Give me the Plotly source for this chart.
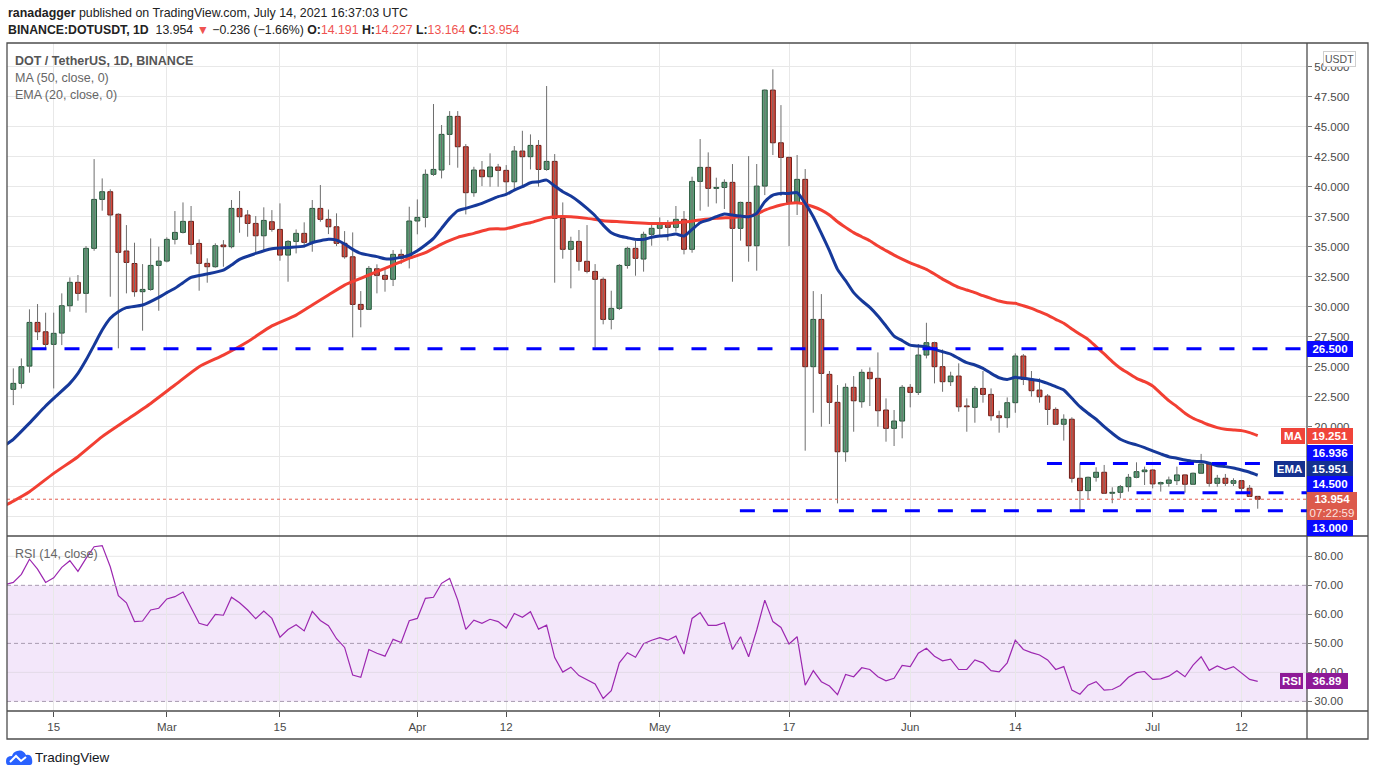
import plotly.graph_objects as go
import pandas as pd

W, H = 1376, 776


def px(x):
    return x / W


def py(y):
    return 1 - y / H


# ---------------- DATA ----------------
start_date = "2021-02-10"

opens = [
    23.11, 23.61, 25.05, 28.69, 27.91, 26.86, 27.80, 30.08, 32.03, 31.11, 34.86, 38.94, 39.58, 37.70, 34.64, 33.60, 31.25, 31.44, 33.44,
    33.80, 35.61, 36.19, 37.11, 35.27, 33.61, 33.33, 35.14, 35.00, 38.19, 37.64, 36.94, 35.91, 37.08, 36.44, 34.30, 35.44, 36.11, 35.36, 38.19, 37.28, 36.66, 35.28, 34.16, 30.19, 29.78, 33.16, 32.61, 32.28, 34.36, 34.03,
    37.14, 37.44, 41.03, 41.39, 44.36, 45.86, 43.33, 39.50, 41.39, 40.83, 41.64, 41.36, 40.41, 42.97, 42.50, 43.44, 41.44, 42.11, 37.36, 34.78, 35.44, 33.78, 32.94, 32.28, 28.94, 29.86, 33.44, 34.86, 33.97, 36.03,
    36.53, 36.94, 36.61, 37.28, 34.78, 40.44, 41.61, 39.86, 39.94, 40.36, 36.53, 38.69, 35.08, 40.05, 48.05, 43.66, 42.44, 38.66, 40.61, 25.00, 28.94, 24.36, 22.03, 17.91, 23.28, 22.08, 24.53, 24.03, 21.39, 19.86, 20.47,
    23.28, 22.86, 25.97, 27.00, 25.00, 23.75, 24.22, 21.72, 21.61, 23.19, 22.69, 20.91, 20.75, 22.00, 25.89, 23.94, 23.05, 22.55, 21.44, 20.20, 20.62, 15.70, 14.67, 15.78, 16.20, 14.45, 14.53, 15.00, 15.78, 16.25,
    16.39, 15.23, 15.28, 15.50, 15.98, 15.20, 16.12, 16.89, 15.28, 15.70, 15.28, 15.50, 14.87, 14.191,
]
highs = [
    24.86, 25.69, 29.78, 30.22, 29.50, 29.50, 31.11, 32.44, 32.64, 35.05, 42.30, 40.69, 39.78, 37.78, 36.80, 35.33, 33.55, 35.69, 35.00,
    35.78, 37.97, 38.69, 38.39, 35.61, 34.03, 35.28, 35.55, 38.89, 39.64, 38.05, 37.55, 38.28, 38.05, 38.61, 35.55, 36.44, 37.03, 38.89, 40.14, 38.10, 37.78, 36.30, 36.19, 31.30, 33.39, 33.53, 33.25, 34.72, 34.78, 38.33,
    38.94, 41.44, 46.89, 45.14, 46.30, 46.30, 43.55, 41.66, 42.14, 42.78, 41.90, 41.80, 43.39, 44.66, 44.36, 43.89, 48.39, 42.72, 38.69, 35.83, 36.39, 36.80, 33.55, 32.44, 31.33, 33.55, 35.00, 35.50, 36.25, 36.94,
    37.44, 37.22, 38.39, 37.97, 40.83, 43.97, 42.86, 40.75, 40.61, 41.89, 38.75, 42.55, 41.89, 48.10, 49.78, 46.80, 42.50, 42.64, 41.47, 31.30, 31.05, 24.64, 23.47, 23.61, 24.22, 24.78, 24.94, 26.19, 22.36, 21.39, 23.47,
    23.55, 26.89, 28.66, 27.08, 26.44, 24.58, 25.28, 22.36, 23.39, 24.64, 23.19, 21.33, 22.44, 26.11, 26.05, 24.64, 24.03, 22.72, 21.61, 21.03, 20.78, 16.95, 15.84, 16.62, 16.81, 14.95, 15.14, 16.06, 17.03, 16.67,
    16.45, 15.42, 15.84, 16.67, 16.00, 16.17, 17.73, 17.00, 15.98, 16.06, 15.70, 15.56, 15.14, 14.227,
]
lows = [
    21.80, 23.19, 24.50, 27.22, 26.44, 23.19, 26.80, 29.58, 30.50, 29.50, 34.66, 38.00, 30.83, 26.53, 31.11, 30.83, 28.00, 31.33, 29.66,
    33.69, 35.19, 36.10, 34.36, 31.33, 32.00, 33.25, 33.33, 34.86, 36.16, 35.83, 34.44, 34.72, 36.25, 33.83, 32.08, 34.44, 34.94, 34.58, 37.08, 36.05, 35.05, 34.00, 27.44, 28.28, 29.72, 31.11, 31.25, 31.72, 33.55, 33.19,
    36.03, 36.61, 40.90, 40.69, 41.80, 41.58, 37.69, 39.16, 40.05, 40.00, 40.00, 39.30, 39.72, 40.00, 41.44, 40.00, 41.33, 32.00, 34.00, 31.53, 33.00, 32.78, 26.61, 28.53, 28.11, 29.72, 33.17, 32.58, 32.92, 35.08,
    35.83, 35.50, 36.25, 34.36, 34.50, 38.00, 38.33, 38.61, 38.14, 32.08, 35.50, 33.75, 33.00, 39.30, 42.64, 39.22, 35.05, 37.64, 18.00, 21.16, 20.00, 20.22, 13.61, 17.08, 19.58, 21.58, 21.72, 20.00, 18.75, 18.39, 19.03,
    21.61, 22.64, 25.69, 23.61, 22.91, 23.39, 21.25, 19.58, 20.33, 22.00, 20.50, 19.50, 19.91, 21.16, 23.47, 22.50, 22.00, 20.14, 20.14, 18.84, 15.34, 13.00, 13.95, 15.42, 14.40, 13.62, 14.03, 14.59, 15.70, 15.14,
    14.86, 14.59, 15.00, 15.14, 14.50, 15.14, 16.06, 15.00, 15.00, 15.06, 15.06, 14.39, 14.17, 13.164,
]
closes = [
    23.61, 25.00, 28.69, 27.91, 26.86, 27.78, 30.08, 32.03, 31.11, 34.86, 38.94, 39.58, 37.64, 34.53, 33.69, 31.25, 31.44, 33.44, 33.80,
    35.61, 36.19, 37.11, 35.19, 33.61, 33.33, 35.08, 35.00, 38.19, 37.50, 36.94, 35.91, 37.19, 36.44, 34.30, 35.44, 36.11, 35.36, 38.19, 37.28, 36.66, 35.28, 34.16, 30.19, 29.78, 33.19, 32.61, 32.28, 34.36, 34.03, 37.14,
    37.44, 41.03, 41.44, 44.36, 45.86, 43.33, 39.50, 41.39, 40.83, 41.64, 41.36, 40.41, 42.97, 42.50, 43.44, 41.44, 42.11, 37.36, 34.78, 35.44, 33.78, 32.94, 32.28, 28.94, 29.86, 33.44, 34.86, 34.03, 36.03, 36.53,
    36.94, 36.61, 37.28, 34.78, 40.44, 41.61, 39.86, 39.94, 40.36, 36.53, 38.69, 35.08, 40.05, 48.05, 43.66, 42.44, 38.66, 40.61, 25.00, 28.94, 24.44, 22.03, 17.91, 23.28, 22.16, 24.53, 24.00, 21.33, 19.86, 20.47, 23.28,
    22.86, 25.97, 27.00, 25.00, 23.75, 24.22, 21.66, 21.66, 23.19, 22.69, 20.91, 20.75, 22.00, 25.89, 23.94, 23.00, 22.50, 21.44, 20.20, 20.62, 15.70, 14.67, 15.78, 16.20, 14.45, 14.53, 15.00, 15.78, 16.25, 16.39,
    15.23, 15.34, 15.56, 15.98, 15.20, 16.12, 16.89, 15.28, 15.70, 15.28, 15.50, 14.87, 14.19, 13.954,
]

ema_sparse_dates = [
    "2021-02-09", "2021-02-10", "2021-02-12", "2021-02-14", "2021-02-15", "2021-02-17", "2021-02-18", "2021-02-19",
    "2021-02-20", "2021-02-21", "2021-02-22", "2021-02-23", "2021-02-24", "2021-02-26", "2021-02-28", "2021-03-01",
    "2021-03-02", "2021-03-03", "2021-03-04", "2021-03-06", "2021-03-08", "2021-03-09", "2021-03-10", "2021-03-12",
    "2021-03-14", "2021-03-16", "2021-03-18", "2021-03-19", "2021-03-21", "2021-03-22", "2021-03-23", "2021-03-24",
    "2021-03-25", "2021-03-27", "2021-03-28", "2021-03-29", "2021-03-30", "2021-03-31", "2021-04-01", "2021-04-02",
    "2021-04-03", "2021-04-04", "2021-04-05", "2021-04-06", "2021-04-07", "2021-04-09", "2021-04-11", "2021-04-12",
    "2021-04-13", "2021-04-14", "2021-04-15",
]
ema_sparse_vals = [
    18.47, 18.95, 20.3, 21.72, 22.36, 23.61, 24.44, 25.55, 26.8, 28.05, 29.03, 29.58, 29.92, 30.14, 30.78, 31.17,
    31.53, 32.0, 32.44, 32.72, 33.05, 33.47, 33.94, 34.44, 34.83, 34.94, 35.05, 35.33, 35.61, 35.55, 35.22, 34.78,
    34.44, 34.17, 34.0, 34.0, 34.11, 34.3, 34.66, 35.14, 35.69, 36.53, 37.36, 38.0, 38.19, 38.61, 39.17, 39.36,
    39.72, 40.0, 40.33,
]
ema_daily_start = "2021-04-16"
ema_daily_vals = [
    40.41, 40.55, 40.05, 39.58, 39.22, 38.75, 38.19, 37.58, 36.8, 36.17, 35.89, 35.75, 35.61, 35.61, 35.78,
    35.89, 35.94, 36.05, 35.89, 36.44, 37.0, 37.22, 37.5, 37.72, 37.64, 37.55, 37.5, 37.78, 38.75, 39.3, 39.44,
    39.44, 39.5, 38.61, 37.5, 36.11, 34.67, 33.11, 32.17, 31.17, 30.5, 29.94, 29.22, 28.39, 27.55, 27.17,
    26.8, 26.72, 26.67, 26.44, 26.25, 26.05, 25.69, 25.33, 25.14, 24.86, 24.44, 24.08, 23.94, 24.11, 24.03,
    23.94, 23.83, 23.61, 23.34, 23.06, 22.37, 21.67, 21.12, 20.62, 20.0, 19.45, 18.95, 18.67, 18.48, 18.25,
    17.98, 17.73, 17.5, 17.37, 17.23, 17.12, 17.09, 16.95, 16.75, 16.67, 16.56, 16.39, 16.2, 15.951,
]

ma_sparse_dates = [
    "2021-02-09", "2021-02-10", "2021-02-12", "2021-02-15", "2021-02-18", "2021-02-21", "2021-02-24", "2021-02-27",
    "2021-03-02", "2021-03-05", "2021-03-08", "2021-03-11", "2021-03-14", "2021-03-17", "2021-03-19", "2021-03-21",
    "2021-03-23", "2021-03-25", "2021-03-27", "2021-03-29", "2021-03-31", "2021-04-02", "2021-04-04", "2021-04-06",
    "2021-04-08", "2021-04-10", "2021-04-12", "2021-04-14", "2021-04-15", "2021-04-17", "2021-04-18", "2021-04-20",
    "2021-04-22", "2021-04-24", "2021-04-26", "2021-04-28", "2021-04-30", "2021-05-02", "2021-05-04", "2021-05-06",
    "2021-05-08", "2021-05-10", "2021-05-12", "2021-05-13", "2021-05-14", "2021-05-15", "2021-05-16", "2021-05-17",
]
ma_sparse_vals = [
    13.45, 13.8, 14.58, 16.11, 17.5, 19.17, 20.55, 21.94, 23.47, 25.0, 25.97, 27.08, 28.4, 29.3, 30.14, 30.97,
    31.8, 32.36, 32.92, 33.47, 34.03, 34.5, 35.22, 35.78, 36.11, 36.47, 36.5, 36.86, 37.0, 37.4, 37.5, 37.5,
    37.36, 37.17, 37.08, 37.0, 36.94, 36.94, 37.05, 37.22, 37.36, 37.44, 37.55, 37.72, 38.05, 38.28, 38.47, 38.61,
]
ma_daily_start = "2021-05-18"
ma_daily_vals = [
    38.66, 38.55, 38.33, 38.05, 37.64, 37.08, 36.61, 36.17, 35.83, 35.5, 35.05, 34.67, 34.3, 33.97,
    33.66, 33.39, 33.11, 32.72, 32.3, 31.94, 31.61, 31.39, 31.17, 30.92, 30.69, 30.47, 30.33, 30.28, 30.08,
    29.86, 29.58, 29.3, 28.95, 28.62, 28.14, 27.7, 27.28, 26.67, 26.06, 25.42, 24.87, 24.45, 24.03, 23.75,
    23.39, 22.78, 22.17, 21.67, 21.12, 20.7, 20.42, 20.14, 19.92, 19.78, 19.73, 19.67, 19.5, 19.251,
]

rsi_start = "2021-02-09"
rsi_vals = [
    70.2, 71.0, 73.8, 79.0, 75.6, 71.0, 72.6, 76.2, 78.5, 74.8, 79.3, 83.3, 83.7, 76.4, 66.4, 64.0, 57.5, 57.7, 61.5, 62.1,
    65.3, 66.1, 67.7, 62.1, 56.9, 56.1, 60.0, 59.7, 65.9, 64.0, 61.5, 58.5, 61.1, 58.6, 52.1, 54.8, 56.4, 54.3, 61.0, 57.9,
    56.1, 51.6, 48.6, 39.1, 38.3, 47.9, 46.6, 45.6, 51.4, 50.3, 57.8,
    58.6, 65.5, 65.9, 70.7, 72.4, 64.9, 54.8, 58.0, 56.9, 58.3, 57.5, 55.3, 60.3, 59.0, 60.9, 54.9, 56.3, 45.1, 40.1, 41.8,
    38.9, 37.4, 36.0, 31.0, 33.7, 43.3, 46.8, 45.2, 49.9, 51.1,
    52.0, 51.1, 52.5, 46.3, 58.6, 60.6, 56.2, 56.2, 57.1, 47.9, 52.3, 45.4, 54.6, 64.9, 57.5, 55.5, 49.8, 52.3, 35.6, 40.6,
    36.8, 35.3, 32.3, 39.3, 38.5, 41.6, 41.0, 38.5, 37.1, 38.0, 42.4,
    42.0, 46.6, 48.3, 45.6, 44.0, 44.6, 41.0, 41.0, 44.3, 43.3, 40.6, 40.2, 43.3, 51.1, 47.9, 46.8, 46.0, 44.3, 41.0, 42.0,
    33.9, 32.5, 35.6, 36.8, 33.9, 34.1, 35.5, 38.3, 39.9, 40.3,
    37.6, 37.8, 38.7, 40.6, 38.5, 42.5, 45.4, 40.7, 42.2, 41.0, 42.0, 39.9, 37.6, 36.89,
]

# horizontal drawn levels (price, start, end or None = right edge)
level_prices = [26.5, 16.936, 14.5, 13.0]
level_starts = ["2021-02-12 06:00", "2021-06-17 22:00", "2021-06-29 00:00", "2021-05-10 22:00"]
level_ends = [None, "2021-07-14 07:00", None, None]

x_tick_vals = ["2021-02-15", "2021-03-01", "2021-03-15", "2021-04-01", "2021-04-12", "2021-05-01",
               "2021-05-17", "2021-06-01", "2021-06-14", "2021-07-01", "2021-07-12"]
x_tick_text = ["15", "Mar", "15", "Apr", "12", "May", "17", "Jun", "14", "Jul", "12"]
price_ticks = [12.5, 15.0, 17.5, 20.0, 22.5, 25.0, 27.5, 30.0, 32.5, 35.0, 37.5, 40.0, 42.5, 45.0, 47.5, 50.0]
price_ticks_hidden = [12.5, 15.0, 17.5]   # covered by the price labels in the reference
rsi_ticks = [30, 40, 50, 60, 70, 80]
rsi_band = [30, 70]
rsi_mid = 50
rsi_grid = [40, 60, 80]

# ---------------- STYLE ----------------
X_RANGE = ["2021-02-09 05:17", "2021-07-20 02:24"]
Y_RANGE = [10.89, 51.975]
RSI_RANGE = [26.7, 87.0]
UP_FILL, UP_LINE = "#5d9e78", "#225437"
DN_FILL, DN_LINE = "#d7483b", "#6e1a14"
WICK = "#6e6e6e"
EMA_C = "#16399a"
MA_C = "#f23f33"
LVL_C = "#0000ff"
RED_T = "#ef5350"
GRID = "#e8e8e8"
FRAME = "#4d4d4d"
TXT = "#4a4a4a"
FONT = "Liberation Sans, Arial, sans-serif"

dates = pd.date_range(start_date, periods=len(closes), freq="D")

up_x, up_b, up_h, dn_x, dn_b, dn_h = [], [], [], [], [], []
wx, wy = [], []
MIN_H = 0.07
for d, o, h, l, c in zip(dates, opens, highs, lows, closes):
    wx += [d, d, None]
    wy += [l, h, None]
    if c >= o:
        up_x.append(d); up_b.append(o); up_h.append(max(c - o, MIN_H))
    else:
        dn_x.append(d); dn_b.append(c); dn_h.append(max(o - c, MIN_H))

ema_x = list(pd.to_datetime(ema_sparse_dates)) + list(pd.date_range(ema_daily_start, periods=len(ema_daily_vals), freq="D"))
ema_y = ema_sparse_vals + ema_daily_vals
ma_x = list(pd.to_datetime(ma_sparse_dates)) + list(pd.date_range(ma_daily_start, periods=len(ma_daily_vals), freq="D"))
ma_y = ma_sparse_vals + ma_daily_vals
rsi_x = pd.date_range(rsi_start, periods=len(rsi_vals), freq="D")

BODY_W = 0.6 * 86400000

fig = go.Figure()
fig.add_trace(go.Scatter(x=wx, y=wy, mode="lines", line=dict(color=WICK, width=1),
                         hoverinfo="skip", xaxis="x", yaxis="y"))
fig.add_trace(go.Bar(x=up_x, y=up_h, base=up_b, width=BODY_W,
                     marker=dict(color=UP_FILL, line=dict(color=UP_LINE, width=1)), xaxis="x", yaxis="y"))
fig.add_trace(go.Bar(x=dn_x, y=dn_h, base=dn_b, width=BODY_W,
                     marker=dict(color=DN_FILL, line=dict(color=DN_LINE, width=1)), xaxis="x", yaxis="y"))
fig.add_trace(go.Scatter(x=ma_x, y=ma_y, mode="lines", line=dict(color=MA_C, width=3, shape="spline", smoothing=0.6),
                         xaxis="x", yaxis="y"))
fig.add_trace(go.Scatter(x=ema_x, y=ema_y, mode="lines", line=dict(color=EMA_C, width=3, shape="spline", smoothing=0.6),
                         xaxis="x", yaxis="y"))
fig.add_trace(go.Scatter(x=rsi_x, y=rsi_vals, mode="lines", line=dict(color="#9c27b0", width=1.2),
                         xaxis="x2", yaxis="y2"))

shapes = []
# RSI band and lines
shapes.append(dict(type="rect", xref="x2", yref="y2", x0=X_RANGE[0], x1=X_RANGE[1], y0=rsi_band[0], y1=rsi_band[1],
                   fillcolor="#f3e7fa", line=dict(width=0), layer="below"))
for g in rsi_grid:
    shapes.append(dict(type="line", xref="x2", yref="y2", x0=X_RANGE[0], x1=X_RANGE[1], y0=g, y1=g,
                       line=dict(color="#e3dbe8" if rsi_band[0] < g < rsi_band[1] else GRID, width=1), layer="below"))
for g in rsi_band + [rsi_mid]:
    shapes.append(dict(type="line", xref="x2", yref="y2", x0=X_RANGE[0], x1=X_RANGE[1], y0=g, y1=g,
                       line=dict(color="#a89bb0", width=1, dash="4px,3px")))
# last price dotted
shapes.append(dict(type="line", xref="x", yref="y", x0=X_RANGE[0], x1=X_RANGE[1], y0=closes[-1], y1=closes[-1],
                   line=dict(color="#e35b4d", width=1, dash="dot")))
# drawn levels
for p, s, e in zip(level_prices, level_starts, level_ends):
    shapes.append(dict(type="line", xref="x", yref="y", x0=s, x1=e if e else X_RANGE[1], y0=p, y1=p,
                       line=dict(color=LVL_C, width=3, dash="15px,18px")))
# frame
L, R, T, B = 7, 1368, 43, 739
AX, SEP, TAX = 1307, 536, 711
shapes.append(dict(type="rect", xref="paper", yref="paper", x0=px(L), x1=px(R), y0=py(B), y1=py(T),
                   line=dict(color=FRAME, width=1.3)))
shapes.append(dict(type="line", xref="paper", yref="paper", x0=px(AX), x1=px(AX), y0=py(B), y1=py(T),
                   line=dict(color=FRAME, width=1.3)))
shapes.append(dict(type="line", xref="paper", yref="paper", x0=px(L), x1=px(R), y0=py(SEP), y1=py(SEP),
                   line=dict(color=FRAME, width=1.3)))
shapes.append(dict(type="line", xref="paper", yref="paper", x0=px(L), x1=px(R), y0=py(TAX), y1=py(TAX),
                   line=dict(color=FRAME, width=1.3)))
# TradingView logo (cloud)
shapes.append(dict(type="path", xref="paper", yref="paper",
                   path=(f"M {px(8)},{py(765)} L {px(30)},{py(765)} Q {px(33)},{py(765)} {px(32)},{py(759)} "
                         f"Q {px(31)},{py(754)} {px(26)},{py(755)} Q {px(23)},{py(749)} {px(17)},{py(751)} "
                         f"Q {px(13)},{py(752)} {px(12)},{py(756)} Q {px(6)},{py(756)} {px(6)},{py(761)} "
                         f"Q {px(6)},{py(765)} {px(8)},{py(765)} Z"),
                   fillcolor="#2962ff", line=dict(width=0)))
shapes.append(dict(type="path", xref="paper", yref="paper",
                   path=f"M {px(10)},{py(762)} L {px(16)},{py(756)} L {px(21)},{py(761)} L {px(26)},{py(757)}",
                   line=dict(color="white", width=2)))

ann = []


def label(text, y, yref, bg, xl, w, h=12, yshift=0, color="white", size=11.5, bold=True, border=None):
    ann.append(dict(text=f"<b>{text}</b>" if bold else text, x=px(xl), xref="paper", xanchor="left",
                    y=y, yref=yref, yanchor="middle", yshift=yshift, showarrow=False,
                    bgcolor=bg, width=w, height=h, borderpad=2, align="center",
                    bordercolor=border if border else bg, borderwidth=1 if border else 0,
                    font=dict(family=FONT, size=size, color=color)))


label(f"{level_prices[0]:.3f}", level_prices[0], "y", "#0a0aff", 1307, 42)
label(f"{ma_y[-1]:.3f}", ma_y[-1], "y", "#f0443a", 1307, 42)
label("MA", ma_y[-1], "y", "#f0443a", 1281, 20)
label(f"{level_prices[1]:.3f}", level_prices[1], "y", "#0a0aff", 1307, 42, yshift=10.5)
label(f"{ema_y[-1]:.3f}", ema_y[-1], "y", "#15318f", 1307, 42, yshift=6.7)
label("EMA", ema_y[-1], "y", "#15318f", 1274, 27, yshift=6.7)
label(f"{level_prices[2]:.3f}", level_prices[2], "y", "#0a0aff", 1307, 42, yshift=8.9)
label(f"{closes[-1]:.3f}<br><span style='font-weight:normal;color:#fde3df'>07:22:59</span>", closes[-1], "y",
      "#dc5a4c", 1307, 46, h=24, yshift=-6.7)
label(f"{level_prices[3]:.3f}", level_prices[3], "y", "#0a0aff", 1307, 42, yshift=-17.8)
label(f"{rsi_vals[-1]:.2f}", rsi_vals[-1], "y2", "#8e1a97", 1306, 38)
label("RSI", rsi_vals[-1], "y2", "#8e1a97", 1280, 19)
ann.append(dict(text="USDT", x=px(1323), xref="paper", xanchor="left", y=py(59), yref="paper", yanchor="middle",
                showarrow=False, bgcolor="white", bordercolor="#cfcfcf", borderwidth=1, borderpad=1,
                font=dict(family=FONT, size=10.5, color="#555")))


def text(t, x, y, size=12.5, color=TXT):
    ann.append(dict(text=t, x=px(x), xref="paper", xanchor="left", y=py(y), yref="paper", yanchor="middle",
                    showarrow=False, font=dict(family=FONT, size=size, color=color)))


chg = closes[-1] - closes[-2]
pct = chg / closes[-2] * 100
r = lambda v: f"<span style='color:{RED_T}'>{v:.3f}</span>"
text("<b>ranadagger</b> published on TradingView.com, July 14, 2021 16:37:03 UTC", 6, 13, size=12.4, color="#222")
text(f"<b>BINANCE:DOTUSDT, 1D</b>  {closes[-1]:.3f} <span style='color:{RED_T}'>▼</span> "
     f"−{abs(chg):.3f} (−{abs(pct):.2f}%) <b>O:</b>{r(opens[-1])} <b>H:</b>{r(highs[-1])} "
     f"<b>L:</b>{r(lows[-1])} <b>C:</b>{r(closes[-1])}", 6, 30, size=12.3, color="#222")
text("<b>DOT / TetherUS, 1D, BINANCE</b>", 13, 61, size=12.5, color="#555")
text("MA (50, close, 0)", 13, 78, size=12.5, color="#666")
text("EMA (20, close, 0)", 13, 95, size=12.5, color="#666")
text("RSI (14, close)", 13, 554, size=12.5, color="#666")
text("TradingView", 33, 757, size=13.5, color="#131722")

fig.update_layout(
    width=W, height=H, margin=dict(l=0, r=0, t=0, b=0),
    paper_bgcolor="white", plot_bgcolor="white", showlegend=False, barmode="overlay",
    shapes=shapes, annotations=ann, hovermode=False,
    xaxis=dict(domain=[px(L), px(AX)], anchor="y", range=X_RANGE, type="date",
               tickvals=x_tick_vals, ticktext=x_tick_text, showticklabels=False,
               showgrid=True, gridcolor=GRID, zeroline=False, showline=False, ticks=""),
    xaxis2=dict(domain=[px(L), px(AX)], anchor="y2", range=X_RANGE, type="date", matches="x",
                tickvals=x_tick_vals, ticktext=x_tick_text, showgrid=True, gridcolor=GRID,
                zeroline=False, showline=False, ticks="outside", ticklen=5, tickcolor=FRAME,
                tickfont=dict(family=FONT, size=11.5, color=TXT)),
    yaxis=dict(domain=[py(SEP), py(T)], anchor="x", side="right", range=Y_RANGE,
               tickvals=price_ticks,
               ticktext=["" if v in price_ticks_hidden else f"{v:.3f}" for v in price_ticks],
               showgrid=True, gridcolor=GRID, zeroline=False, showline=False,
               ticks="outside", ticklen=4, tickcolor="#777",
               tickfont=dict(family=FONT, size=11.5, color=TXT)),
    yaxis2=dict(domain=[py(TAX), py(SEP)], anchor="x2", side="right", range=RSI_RANGE,
                tickvals=rsi_ticks, ticktext=[f"{v:.2f}" for v in rsi_ticks],
                showgrid=False, zeroline=False, showline=False,
                ticks="outside", ticklen=4, tickcolor="#777",
                tickfont=dict(family=FONT, size=11.5, color=TXT)),
)

fig.write_html("out.html", config={"displayModeBar": False, "staticPlot": True},
               post_script="document.body.style.margin='0';document.body.style.overflow='hidden';")
